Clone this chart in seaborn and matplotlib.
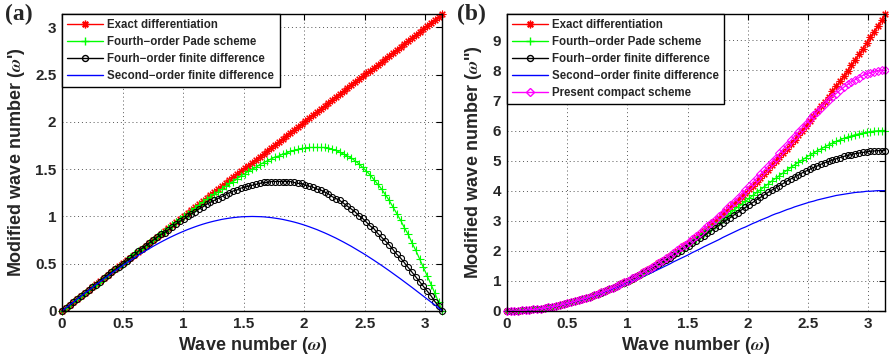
import numpy as np
import matplotlib
matplotlib.use("Agg")
import matplotlib.pyplot as plt
from matplotlib.lines import Line2D
import seaborn as sns

# ---------------- data ----------------
omega = [0.0000, 0.0314, 0.0628, 0.0942, 0.1257, 0.1571, 0.1885, 0.2199, 0.2513, 0.2827,
         0.3142, 0.3456, 0.3770, 0.4084, 0.4398, 0.4712, 0.5027, 0.5341, 0.5655, 0.5969,
         0.6283, 0.6597, 0.6912, 0.7226, 0.7540, 0.7854, 0.8168, 0.8482, 0.8796, 0.9111,
         0.9425, 0.9739, 1.0053, 1.0367, 1.0681, 1.0996, 1.1310, 1.1624, 1.1938, 1.2252,
         1.2566, 1.2881, 1.3195, 1.3509, 1.3823, 1.4137, 1.4451, 1.4765, 1.5080, 1.5394,
         1.5708, 1.6022, 1.6336, 1.6650, 1.6965, 1.7279, 1.7593, 1.7907, 1.8221, 1.8535,
         1.8850, 1.9164, 1.9478, 1.9792, 2.0106, 2.0420, 2.0735, 2.1049, 2.1363, 2.1677,
         2.1991, 2.2305, 2.2619, 2.2934, 2.3248, 2.3562, 2.3876, 2.4190, 2.4504, 2.4819,
         2.5133, 2.5447, 2.5761, 2.6075, 2.6389, 2.6704, 2.7018, 2.7332, 2.7646, 2.7960,
         2.8274, 2.8588, 2.8903, 2.9217, 2.9531, 2.9845, 3.0159, 3.0473, 3.0788, 3.1102,
         3.1416]

# panel (a): first derivative
a_exact = list(omega)
a_pade = [0.00, 0.03, 0.06, 0.09, 0.13, 0.16, 0.19, 0.22, 0.25, 0.28,
          0.31, 0.35, 0.38, 0.41, 0.44, 0.47, 0.50, 0.53, 0.57, 0.60,
          0.63, 0.66, 0.69, 0.72, 0.75, 0.78, 0.82, 0.85, 0.88, 0.91,
          0.94, 0.97, 1.00, 1.03, 1.06, 1.09, 1.12, 1.15, 1.18, 1.21,
          1.24, 1.26, 1.29, 1.32, 1.35, 1.37, 1.40, 1.43, 1.45, 1.48,
          1.50, 1.52, 1.55, 1.57, 1.59, 1.61, 1.63, 1.64, 1.66, 1.67,
          1.69, 1.70, 1.71, 1.72, 1.72, 1.73, 1.73, 1.73, 1.73, 1.73,
          1.72, 1.71, 1.70, 1.68, 1.66, 1.64, 1.62, 1.59, 1.56, 1.52,
          1.48, 1.44, 1.39, 1.34, 1.29, 1.23, 1.17, 1.10, 1.03, 0.96,
          0.88, 0.81, 0.72, 0.64, 0.55, 0.46, 0.37, 0.28, 0.19, 0.09,
          0.00]
a_fd4 = [0.00, 0.03, 0.06, 0.09, 0.13, 0.16, 0.19, 0.22, 0.25, 0.28,
         0.31, 0.35, 0.38, 0.41, 0.44, 0.47, 0.50, 0.53, 0.56, 0.59,
         0.63, 0.66, 0.69, 0.72, 0.75, 0.78, 0.81, 0.83, 0.86, 0.89,
         0.92, 0.95, 0.97, 1.00, 1.03, 1.05, 1.08, 1.10, 1.13, 1.15,
         1.17, 1.19, 1.21, 1.23, 1.25, 1.27, 1.28, 1.30, 1.31, 1.32,
         1.33, 1.34, 1.35, 1.36, 1.36, 1.37, 1.37, 1.37, 1.37, 1.37,
         1.37, 1.36, 1.35, 1.35, 1.33, 1.32, 1.31, 1.29, 1.28, 1.26,
         1.24, 1.21, 1.19, 1.17, 1.14, 1.11, 1.08, 1.05, 1.01, 0.98,
         0.94, 0.90, 0.87, 0.82, 0.78, 0.74, 0.70, 0.65, 0.60, 0.56,
         0.51, 0.46, 0.41, 0.36, 0.31, 0.26, 0.21, 0.16, 0.10, 0.05,
         0.00]
a_fd2 = [0.000, 0.031, 0.063, 0.094, 0.125, 0.156, 0.187, 0.218, 0.249, 0.279,
         0.309, 0.339, 0.368, 0.397, 0.426, 0.454, 0.482, 0.509, 0.536, 0.562,
         0.588, 0.613, 0.637, 0.661, 0.685, 0.707, 0.729, 0.750, 0.771, 0.790,
         0.809, 0.827, 0.844, 0.861, 0.876, 0.891, 0.905, 0.918, 0.930, 0.941,
         0.951, 0.960, 0.969, 0.976, 0.982, 0.988, 0.992, 0.996, 0.998, 0.999,
         1.000,
         0.999, 0.998, 0.996, 0.992, 0.988, 0.982, 0.976, 0.969, 0.960, 0.951,
         0.941, 0.930, 0.918, 0.905, 0.891, 0.876, 0.861, 0.844, 0.827, 0.809,
         0.790, 0.771, 0.750, 0.729, 0.707, 0.685, 0.661, 0.637, 0.613, 0.588,
         0.562, 0.536, 0.509, 0.482, 0.454, 0.426, 0.397, 0.368, 0.339, 0.309,
         0.279, 0.249, 0.218, 0.187, 0.156, 0.125, 0.094, 0.063, 0.031, 0.000]

# panel (b): second derivative
b_exact = [0.00, 0.00, 0.00, 0.01, 0.02, 0.02, 0.04, 0.05, 0.06, 0.08,
           0.10, 0.12, 0.14, 0.17, 0.19, 0.22, 0.25, 0.29, 0.32, 0.36,
           0.39, 0.44, 0.48, 0.52, 0.57, 0.62, 0.67, 0.72, 0.77, 0.83,
           0.89, 0.95, 1.01, 1.07, 1.14, 1.21, 1.28, 1.35, 1.43, 1.50,
           1.58, 1.66, 1.74, 1.82, 1.91, 2.00, 2.09, 2.18, 2.27, 2.37,
           2.47, 2.57, 2.67, 2.77, 2.88, 2.99, 3.10, 3.21, 3.32, 3.44,
           3.55, 3.67, 3.79, 3.92, 4.04, 4.17, 4.30, 4.43, 4.56, 4.70,
           4.84, 4.98, 5.12, 5.26, 5.40, 5.55, 5.70, 5.85, 6.00, 6.16,
           6.32, 6.48, 6.64, 6.80, 6.96, 7.13, 7.30, 7.47, 7.64, 7.82,
           7.99, 8.17, 8.35, 8.54, 8.72, 8.91, 9.10, 9.29, 9.48, 9.67,
           9.87]
b_pade = [0.00, 0.00, 0.00, 0.01, 0.02, 0.02, 0.04, 0.05, 0.06, 0.08,
          0.10, 0.12, 0.14, 0.17, 0.19, 0.22, 0.25, 0.29, 0.32, 0.36,
          0.39, 0.43, 0.48, 0.52, 0.57, 0.62, 0.67, 0.72, 0.77, 0.83,
          0.89, 0.94, 1.01, 1.07, 1.13, 1.20, 1.27, 1.34, 1.41, 1.49,
          1.56, 1.64, 1.72, 1.80, 1.88, 1.96, 2.05, 2.13, 2.22, 2.31,
          2.40, 2.49, 2.58, 2.68, 2.77, 2.87, 2.96, 3.06, 3.15, 3.25,
          3.35, 3.45, 3.54, 3.64, 3.74, 3.84, 3.94, 4.03, 4.13, 4.22,
          4.32, 4.41, 4.50, 4.59, 4.68, 4.77, 4.86, 4.94, 5.02, 5.10,
          5.18, 5.25, 5.33, 5.39, 5.46, 5.52, 5.58, 5.64, 5.69, 5.74,
          5.78, 5.82, 5.86, 5.89, 5.92, 5.94, 5.96, 5.98, 5.99, 6.00,
          6.00]
b_fd4 = [0.00, 0.00, 0.00, 0.01, 0.02, 0.02, 0.04, 0.05, 0.06, 0.08,
         0.10, 0.12, 0.14, 0.17, 0.19, 0.22, 0.25, 0.29, 0.32, 0.36,
         0.39, 0.43, 0.48, 0.52, 0.57, 0.61, 0.66, 0.72, 0.77, 0.82,
         0.88, 0.94, 1.00, 1.06, 1.13, 1.19, 1.26, 1.33, 1.40, 1.47,
         1.54, 1.62, 1.69, 1.77, 1.85, 1.92, 2.00, 2.09, 2.17, 2.25,
         2.33, 2.42, 2.50, 2.59, 2.67, 2.76, 2.84, 2.93, 3.02, 3.10,
         3.19, 3.27, 3.36, 3.44, 3.53, 3.61, 3.70, 3.78, 3.86, 3.94,
         4.02, 4.09, 4.17, 4.24, 4.32, 4.39, 4.45, 4.52, 4.59, 4.65,
         4.71, 4.77, 4.82, 4.88, 4.93, 4.97, 5.02, 5.06, 5.10, 5.14,
         5.17, 5.20, 5.23, 5.25, 5.27, 5.29, 5.31, 5.32, 5.33, 5.33,
         5.33]
b_fd2 = [0.00, 0.00, 0.00, 0.01, 0.02, 0.02, 0.04, 0.05, 0.06, 0.08,
         0.10, 0.12, 0.14, 0.16, 0.19, 0.22, 0.25, 0.28, 0.31, 0.35,
         0.38, 0.42, 0.46, 0.50, 0.54, 0.59, 0.63, 0.68, 0.73, 0.77,
         0.82, 0.88, 0.93, 0.98, 1.04, 1.09, 1.15, 1.21, 1.26, 1.32,
         1.38, 1.44, 1.50, 1.56, 1.63, 1.69, 1.75, 1.81, 1.87, 1.94,
         2.00, 2.06, 2.13, 2.19, 2.25, 2.31, 2.37, 2.44, 2.50, 2.56,
         2.62, 2.68, 2.74, 2.79, 2.85, 2.91, 2.96, 3.02, 3.07, 3.12,
         3.18, 3.23, 3.27, 3.32, 3.37, 3.41, 3.46, 3.50, 3.54, 3.58,
         3.62, 3.65, 3.69, 3.72, 3.75, 3.78, 3.81, 3.84, 3.86, 3.88,
         3.90, 3.92, 3.94, 3.95, 3.96, 3.98, 3.98, 3.99, 4.00, 4.00,
         4.00]
b_comp = [0.00, 0.00, 0.00, 0.01, 0.02, 0.02, 0.04, 0.05, 0.06, 0.08,
          0.10, 0.12, 0.14, 0.17, 0.19, 0.22, 0.25, 0.29, 0.32, 0.36,
          0.39, 0.44, 0.48, 0.52, 0.57, 0.62, 0.67, 0.72, 0.77, 0.83,
          0.89, 0.95, 1.01, 1.08, 1.14, 1.21, 1.28, 1.36, 1.43, 1.51,
          1.59, 1.67, 1.75, 1.84, 1.93, 2.02, 2.11, 2.20, 2.30, 2.40,
          2.50, 2.60, 2.71, 2.82, 2.93, 3.04, 3.15, 3.27, 3.39, 3.51,
          3.63, 3.76, 3.88, 4.01, 4.14, 4.28, 4.41, 4.55, 4.68, 4.82,
          4.96, 5.10, 5.24, 5.38, 5.53, 5.67, 5.81, 5.95, 6.09, 6.23,
          6.37, 6.50, 6.63, 6.76, 6.89, 7.01, 7.12, 7.23, 7.34, 7.44,
          7.53, 7.62, 7.69, 7.76, 7.83, 7.88, 7.92, 7.96, 7.98, 8.00,
          8.00]

labels_a = ['Exact differentiation', 'Fourth\u2212order Pade scheme',
            'Fourh\u2212order finite difference', 'Second\u2212order finite difference']
labels_b = labels_a + ['Present compact scheme']
x_ticks = [0, 0.5, 1, 1.5, 2, 2.5, 3]
y_ticks_a = [0, 0.5, 1, 1.5, 2, 2.5, 3]
y_ticks_b = [0, 1, 2, 3, 4, 5, 6, 7, 8, 9]

# ---------------- style ----------------
sns.set_theme(style="white")
plt.rcParams['font.family'] = ['Liberation Sans', 'DejaVu Sans']
plt.rcParams['font.weight'] = 'bold'
plt.rcParams['mathtext.fontset'] = 'stix'
plt.rcParams['axes.edgecolor'] = 'black'
plt.rcParams['axes.linewidth'] = 1.0

fig = plt.figure(figsize=(8.89, 3.62), dpi=100)
ax1 = fig.add_axes([0.0697, 0.141, 0.428, 0.820])
ax2 = fig.add_axes([0.570, 0.141, 0.426, 0.820])

STAR = (8, 2, 0)
GREEN = '#00ff00'
MAGENTA = '#ff00ff'


def series(ax, y, color, marker=None, ms=4.5, mfc=None):
    kw = dict(x=omega, y=y, ax=ax, color=color, lw=0.9, legend=False)
    if marker:
        kw.update(marker=marker, markersize=ms, markeredgecolor=color, markeredgewidth=0.8,
                  markerfacecolor=(mfc if mfc else color))
    sns.lineplot(**kw)


series(ax1, a_exact, 'red', STAR, 5.5)
series(ax1, a_pade, GREEN, '+', 5.5)
series(ax1, a_fd4, 'black', 'o', 4.3, 'none')
series(ax1, a_fd2, 'blue')

series(ax2, b_exact, 'red', STAR, 5.5)
series(ax2, b_pade, GREEN, '+', 5.5)
series(ax2, b_fd4, 'black', 'o', 4.3, 'none')
series(ax2, b_fd2, 'blue')
series(ax2, b_comp, MAGENTA, 'D', 3.8, 'none')


def handles(n):
    h = [Line2D([], [], color='red', marker=STAR, ms=5.5, lw=1),
         Line2D([], [], color=GREEN, marker='+', ms=5.5, lw=1),
         Line2D([], [], color='black', marker='o', ms=4.3, mfc='none', lw=1),
         Line2D([], [], color='blue', lw=1),
         Line2D([], [], color=MAGENTA, marker='D', ms=3.8, mfc='none', lw=1)]
    return h[:n]


for ax, ymax, yt, lab, labels in [(ax1, np.pi, y_ticks_a, "'", labels_a),
                                  (ax2, np.pi ** 2, y_ticks_b, "''", labels_b)]:
    for line in ax.lines:
        line.set_clip_on(False)
    ax.set_xlim(0, np.pi)
    ax.set_ylim(0, ymax)
    ax.set_xticks(x_ticks)
    ax.set_xticklabels(['%g' % v for v in x_ticks])
    ax.set_yticks(yt)
    ax.set_yticklabels(['%g' % v for v in yt])
    ax.tick_params(direction='in', length=4, width=0.8, top=True, right=True,
                   labelsize=11, pad=4, color='black')
    for t in ax.get_xticklabels() + ax.get_yticklabels():
        t.set_fontweight('bold')
    ax.grid(True, linestyle=(0, (1, 3)), color='#555555', linewidth=0.7)
    ax.set_xlabel(r'Wave number ($\omega$)', fontsize=13, fontweight='bold', labelpad=3)
    ax.set_ylabel(r'Modified wave number ($\omega$' + lab + ')', fontsize=13,
                  fontweight='bold', labelpad=6)
    leg = ax.legend(handles(len(labels)), labels, loc='upper left',
                    bbox_to_anchor=(0, 1), borderaxespad=0, fontsize=8.3,
                    handlelength=3.1, labelspacing=0.42, fancybox=False,
                    edgecolor='black', framealpha=1, handletextpad=0.4,
                    borderpad=0.45)
    leg.get_frame().set_linewidth(1.0)
    for t in leg.get_texts():
        t.set_fontweight('bold')

fig.text(0.006, 0.945, '(a)', fontsize=17, fontweight='bold', family='Liberation Serif')
fig.text(0.514, 0.945, '(b)', fontsize=17, fontweight='bold', family='Liberation Serif')

fig.savefig("out.png", dpi=100)
